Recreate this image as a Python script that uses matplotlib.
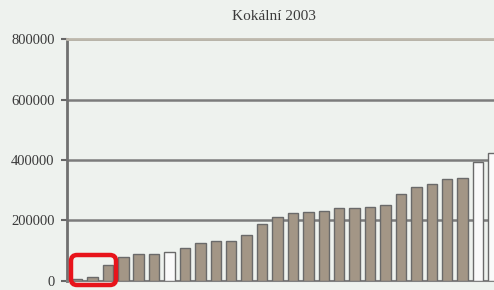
import numpy as np
import matplotlib
matplotlib.use("Agg")
import matplotlib.pyplot as plt
from matplotlib.patches import FancyBboxPatch
from matplotlib.transforms import IdentityTransform

title = "Kokální 2003"
values = [4000, 12000, 51000, 78000, 90000, 90000, 94000, 109000, 126000, 133000,
          133000, 153000, 189000, 211000, 223000, 229000, 232000, 240000, 242000,
          245000, 251000, 287000, 311000, 321000, 337000, 339000, 394000, 423000]
open_bars = [6, 26, 27]
yticks = [0, 200000, 400000, 600000, 800000]

bg = "#eef2ee"
fig = plt.figure(figsize=(4.94, 2.90), dpi=100, facecolor=bg)
# axes runs past the right edge of the figure (the source is a crop)
ax = fig.add_axes([67 / 494, 9.3 / 290, 465 / 494, 241.4 / 290], facecolor=bg)

x = np.arange(len(values))
fills = ["#fafafa" if i in open_bars else "#a39686" for i in x]
ax.bar(x, values, width=0.68, color=fills, edgecolor="#6a6a6a", linewidth=1.0, zorder=3)

ax.set_xlim(-0.65, 29.5)
ax.set_ylim(0, 800000)
ax.set_yticks(yticks)
ax.set_yticklabels([str(v) for v in yticks], fontsize=10.5, family="Liberation Serif", color="#3a3a3a")
ax.set_xticks([])
ax.yaxis.grid(True, color="#7c7c7c", linewidth=1.8, zorder=0)
ax.set_axisbelow(True)
ax.tick_params(axis="y", length=4, width=1.5, color="#666666", pad=5)

ax.spines["left"].set_color("#707070")
ax.spines["left"].set_linewidth(2)
ax.spines["bottom"].set_color("#808080")
ax.spines["bottom"].set_linewidth(1.5)
ax.spines["top"].set_color("#bdb8ac")
ax.spines["top"].set_linewidth(2)
ax.spines["right"].set_visible(False)

fig.text(274 / 494, 273 / 290, title, ha="center", va="center", fontsize=11,
         family="Liberation Serif", color="#3a3a3a")

# red highlight box around the first bars (pixel coords)
box = FancyBboxPatch((71, 5), 45, 30, boxstyle="round,pad=0,rounding_size=6",
                     transform=IdentityTransform(), fill=False, edgecolor="#e8141b",
                     linewidth=3.2, zorder=10)
fig.patches.append(box)

fig.savefig("out.png", dpi=100, facecolor=bg)
